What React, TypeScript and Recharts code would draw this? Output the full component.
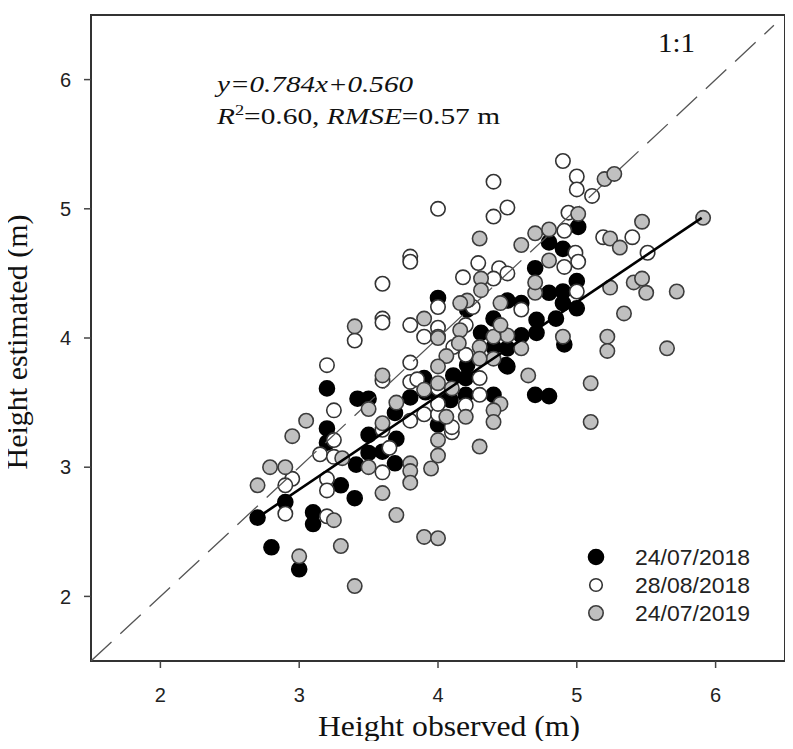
import React from "react";
import { ScatterChart, Scatter, XAxis, YAxis, ReferenceArea } from "recharts";

// ---- data ----
const ticks = [2, 3, 4, 5, 6];
const axisDomain = [1.5, 6.5];

const date1 = "24/07/2018";
const date2 = "28/08/2018";
const date3 = "24/07/2019";

// [observed, estimated]
const jul2018: [number, number][] = [
  [5.01, 4.86], [4.8, 4.74], [4.9, 4.69], [4.7, 4.54], [5.0, 4.44], [5.0, 4.23],
  [4.9, 4.36], [4.9, 4.27], [4.91, 3.95], [4.85, 4.15], [4.8, 4.35], [4.71, 4.14],
  [4.71, 4.04], [4.6, 4.02], [4.5, 3.92], [4.5, 3.78], [4.31, 4.04], [4.4, 4.15],
  [4.5, 4.29], [4.6, 4.27], [4.21, 4.22], [4.0, 4.31], [4.4, 3.93], [4.21, 3.79],
  [4.11, 3.71], [4.4, 3.56], [4.0, 3.56], [4.7, 3.56], [4.8, 3.55], [4.49, 3.79],
  [4.2, 3.69], [3.9, 3.69], [3.91, 3.58], [4.2, 3.56], [3.8, 3.54], [3.69, 3.42],
  [4.0, 3.33], [3.42, 3.53], [3.5, 3.53], [3.5, 3.25], [3.5, 3.11], [3.41, 3.02],
  [3.69, 3.03], [3.7, 3.22], [3.2, 3.61], [3.2, 3.3], [3.2, 3.19], [3.3, 2.86],
  [2.9, 2.73], [2.7, 2.61], [3.1, 2.65], [3.1, 2.56], [3.4, 2.76], [2.8, 2.38],
  [3.0, 2.21], [3.6, 3.12], [4.09, 3.52],
];

const aug2018: [number, number][] = [
  [4.9, 5.37], [5.0, 5.25], [5.0, 5.15], [5.11, 5.1], [4.4, 5.21], [4.0, 5.0],
  [4.4, 4.94], [4.5, 5.01], [4.94, 4.97], [4.91, 4.83], [5.19, 4.78], [5.4, 4.78],
  [5.51, 4.66], [4.99, 4.66], [4.29, 4.58], [4.44, 4.54], [5.01, 4.59], [4.91, 4.55],
  [4.5, 4.5], [4.4, 4.46], [4.18, 4.47], [3.8, 4.63], [3.8, 4.59], [3.6, 4.42],
  [3.4, 3.98], [3.6, 4.15], [3.6, 4.12], [3.8, 4.1], [3.9, 4.01], [3.2, 3.79],
  [3.8, 3.81], [3.6, 3.67], [3.25, 3.44], [3.25, 3.21], [3.6, 3.29], [3.8, 3.36],
  [3.8, 3.66], [3.9, 3.41], [3.15, 3.1], [3.25, 3.08], [2.95, 2.91], [2.9, 2.86],
  [2.9, 2.64], [3.2, 2.91], [3.2, 2.82], [3.2, 2.62], [3.6, 2.96], [3.65, 3.15],
  [4.1, 3.27], [4.1, 3.31], [4.0, 3.41], [4.2, 3.48], [4.0, 3.49], [4.0, 4.24],
  [4.6, 4.22], [5.0, 4.36], [4.0, 4.08], [4.2, 3.87], [4.11, 3.93], [4.3, 3.69],
  [4.3, 3.56], [4.0, 3.61], [4.0, 4.01], [4.25, 4.24], [4.2, 4.1], [3.85, 3.68],
];

const jul2019: [number, number][] = [
  [5.2, 5.23], [5.27, 5.27], [5.01, 4.96], [5.47, 4.9], [5.91, 4.93], [4.3, 4.77],
  [4.7, 4.81], [4.8, 4.84], [4.6, 4.72], [5.24, 4.77], [5.31, 4.7], [4.8, 4.6],
  [5.24, 4.39], [5.34, 4.19], [5.22, 4.01], [5.22, 3.9], [5.1, 3.65], [5.1, 3.35],
  [5.41, 4.43], [5.47, 4.46], [5.5, 4.35], [5.72, 4.36], [5.65, 3.92], [4.9, 4.01],
  [4.7, 4.35], [4.7, 4.43], [4.6, 3.92], [4.65, 3.71], [4.5, 4.02], [4.4, 4.01],
  [4.45, 4.1], [4.45, 4.27], [4.31, 4.46], [4.31, 4.37], [4.21, 4.29], [4.16, 4.27],
  [4.3, 3.93], [4.16, 4.06], [4.0, 4.0], [4.4, 3.84], [4.3, 3.84], [4.06, 3.86],
  [4.45, 3.49], [4.4, 3.44], [4.4, 3.35], [4.0, 3.65], [4.06, 3.39], [4.2, 3.39],
  [4.0, 3.21], [4.3, 3.16], [4.0, 3.09], [3.95, 2.99], [3.8, 3.03], [3.8, 2.97],
  [3.8, 2.88], [3.9, 2.46], [4.0, 2.45], [3.7, 2.63], [3.6, 2.8], [3.5, 3.0],
  [3.31, 3.07], [2.79, 3.0], [2.9, 3.0], [2.7, 2.86], [3.05, 3.36], [2.95, 3.24],
  [3.25, 2.59], [3.3, 2.39], [3.0, 2.31], [3.4, 2.08], [3.4, 4.09], [3.9, 4.15],
  [3.6, 3.71], [3.5, 3.45], [3.6, 3.34], [3.7, 3.5], [3.9, 3.6], [4.15, 3.96],
  [4.1, 3.61], [4.0, 3.78],
];

// fitted regression line as drawn (end points) and the 1:1 line
const fitLine: [number, number][] = [[2.7, 2.61], [5.9, 4.93]];
const oneToOne: [number, number][] = [[1.5, 1.5], [6.42, 6.42]];

const eqText = "y=0.784x+0.560";
const r2Text = "0.60";
const rmseText = "0.57 m";
const xTitle = "Height observed (m)";
const yTitle = "Height estimated (m)";

// ---- styles ----
const toObj = (a: [number, number][]) => a.map(([x, y]) => ({ x, y }));
const serif = "'Liberation Serif', 'Times New Roman', serif";
const sans = "'Liberation Sans', Arial, sans-serif";

const series = [
  { name: date1, fill: "#000000", stroke: "#000000", r: 7.5, lr: 7.5 },
  { name: date2, fill: "#ffffff", stroke: "#333333", r: 7.2, lr: 6.3 },
  { name: date3, fill: "#c0c0c0", stroke: "#3c3c3c", r: 7.2, lr: 7.2 },
];

const dot = (fill: string, stroke: string, r: number) => (p: any) => (
  <circle cx={p.cx} cy={p.cy} r={r} fill={fill} stroke={stroke} strokeWidth={1.6} />
);
const noDot = () => <g />;

export default function App() {
  const W = 780;
  const H = 733;
  return (
    <div style={{ position: "relative", width: W, height: H, background: "#fff" }}>
      <ScatterChart width={W} height={H} margin={{ top: 7, right: 3, bottom: 0, left: 0 }}>
        <XAxis
          type="number"
          dataKey="x"
          domain={axisDomain}
          ticks={ticks}
          allowDataOverflow
          height={80}
          axisLine={false}
          tickSize={7}
          tickMargin={20}
          tickLine={{ stroke: "#444", strokeWidth: 1.5 }}
          tick={{ fontSize: 20, fill: "#222", fontFamily: sans }}
        />
        <YAxis
          type="number"
          dataKey="y"
          domain={axisDomain}
          ticks={ticks}
          allowDataOverflow
          width={83}
          axisLine={false}
          tickSize={7}
          tickMargin={13}
          tickLine={{ stroke: "#444", strokeWidth: 1.5 }}
          tick={{ fontSize: 20, fill: "#222", fontFamily: sans }}
        />
        <ReferenceArea
          x1={axisDomain[0]}
          x2={axisDomain[1]}
          y1={axisDomain[0]}
          y2={axisDomain[1]}
          fill="none"
          stroke="#333"
          strokeWidth={2}
        />
        <Scatter
          data={toObj(jul2018)}
          shape={dot(series[0].fill, series[0].stroke, series[0].r)}
          isAnimationActive={false}
        />
        <Scatter
          data={toObj(aug2018)}
          shape={dot(series[1].fill, series[1].stroke, series[1].r)}
          isAnimationActive={false}
        />
        <Scatter
          data={toObj(oneToOne)}
          shape={noDot}
          line={{ stroke: "#555", strokeWidth: 1.3, strokeDasharray: "28 12" }}
          isAnimationActive={false}
        />
        <Scatter
          data={toObj(jul2019)}
          shape={dot(series[2].fill, series[2].stroke, series[2].r)}
          isAnimationActive={false}
        />
        <Scatter
          data={toObj(fitLine)}
          shape={noDot}
          line={{ stroke: "#000", strokeWidth: 2.6 }}
          isAnimationActive={false}
        />
      </ScatterChart>
      <svg
        width={W}
        height={741}
        style={{ position: "absolute", left: 0, top: 0, pointerEvents: "none", overflow: "visible" }}
      >
        <text x={650} y={44} fontFamily={serif} fontSize={27} fill="#111" textLength={37} lengthAdjust="spacingAndGlyphs">
          1:1
        </text>
        <text x={209} y={84} fontFamily={serif} fontSize={24} fontStyle="italic" fill="#111" textLength={196} lengthAdjust="spacingAndGlyphs">
          {eqText}
        </text>
        <text x={209} y={116} fontFamily={serif} fontSize={24} fill="#111" textLength={283} lengthAdjust="spacingAndGlyphs">
          <tspan fontStyle="italic">R</tspan>
          <tspan dy={-9} fontSize={15}>2</tspan>
          <tspan dy={9}>{"=" + r2Text + ", "}</tspan>
          <tspan fontStyle="italic">RMSE</tspan>
          <tspan>{"=" + rmseText}</tspan>
        </text>
        <text x={441} y={728} textAnchor="middle" fontFamily={serif} fontSize={30} fill="#111" textLength={262} lengthAdjust="spacingAndGlyphs">
          {xTitle}
        </text>
        <text
          transform="translate(19,334) rotate(-90)"
          textAnchor="middle"
          fontFamily={serif}
          fontSize={29}
          fill="#111"
          textLength={255}
          lengthAdjust="spacingAndGlyphs"
        >
          {yTitle}
        </text>
        {series.map((s, i) => (
          <g key={s.name}>
            <circle cx={588} cy={549 + i * 28} r={s.lr} fill={s.fill} stroke={s.stroke} strokeWidth={1.6} />
            <text x={627} y={557 + i * 28} fontFamily={sans} fontSize={22} fill="#222" textLength={115} lengthAdjust="spacingAndGlyphs">
              {s.name}
            </text>
          </g>
        ))}
      </svg>
    </div>
  );
}
